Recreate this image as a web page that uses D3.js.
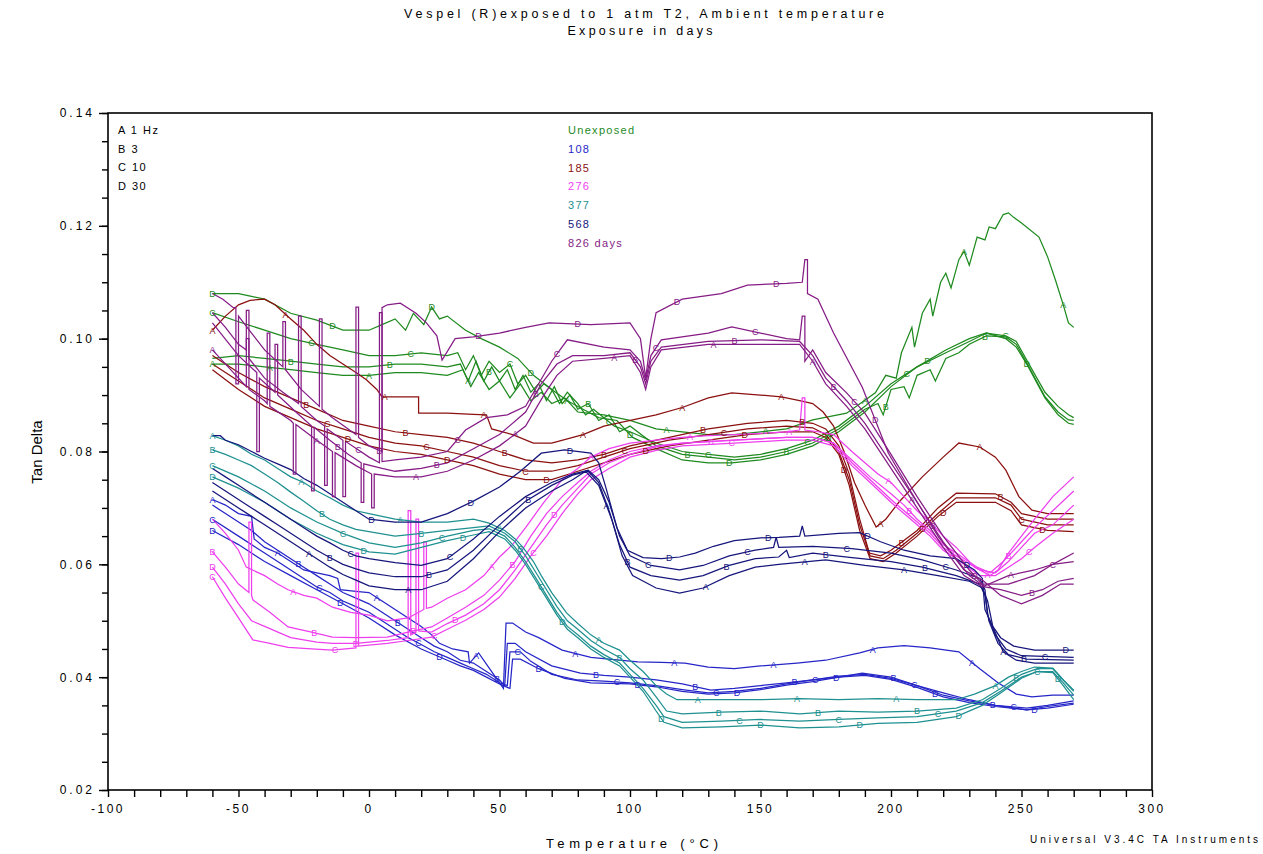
<!DOCTYPE html>
<html><head><meta charset="utf-8">
<script src="https://cdn.jsdelivr.net/npm/d3@7"></script>
<style>
body{margin:0;background:#fff}
text{font-family:"Liberation Sans",Arial,sans-serif;fill:#000}
</style>
</head><body>
<svg id="chart" width="1263" height="854"></svg>
<script>
// Tan delta vs temperature, four frequencies (A..D) for each exposure time.
// Each curve is a list of [temperature °C, tan delta].

// ---- Unexposed ----
const unexposedA = [[-60,0.0955],[-50,0.0955],[-40,0.095],[-30,0.0945],[-20,0.094],[-10,0.0935],[0,0.0935],[10,0.094],[20,0.094],[30,0.0935],[36,0.0945],[39,0.0915],[42,0.094],[46,0.091],[50,0.0925],[54,0.0895],[58,0.092],[62,0.089],[66,0.0905],[70,0.0885],[75,0.0895],[80,0.087],[90,0.0865],[100,0.0855],[110,0.084],[120,0.0835],[130,0.083],[140,0.083],[150,0.0835],[160,0.084],[170,0.0856],[183,0.0868],[194,0.0904],[198,0.0935],[202,0.093],[204,0.0975],[208,0.102],[209,0.0985],[212,0.1045],[215,0.107],[216,0.104],[219,0.11],[221,0.1116],[223,0.109],[226,0.114],[228,0.1155],[230,0.113],[233,0.118],[236,0.1175],[237.6,0.1198],[240,0.1195],[243,0.122],[245,0.1223],[247,0.1215],[250,0.1205],[256.7,0.118],[260,0.1145],[263,0.1104],[266,0.106],[268,0.1028],[270,0.102]];
const unexposedB = [[-60,0.0965],[-50,0.097],[-40,0.0965],[-30,0.096],[-20,0.0955],[-10,0.095],[0,0.095],[10,0.0955],[20,0.0955],[30,0.095],[35,0.0955],[38,0.0925],[41,0.096],[44,0.0925],[47,0.095],[50,0.0925],[53,0.0945],[56,0.091],[59,0.0935],[62,0.0905],[65,0.092],[68,0.089],[71,0.0915],[74,0.0885],[77,0.09],[80,0.0875],[84,0.0885],[88,0.0855],[92,0.0865],[96,0.0835],[100,0.0845],[110,0.081],[120,0.0795],[130,0.079],[140,0.0785],[150,0.079],[160,0.08],[170,0.0815],[180,0.084],[190,0.0875],[195,0.0885],[197,0.0865],[200,0.091],[205,0.0915],[207,0.0895],[210,0.0935],[215,0.0945],[217,0.0925],[221,0.0965],[226,0.0975],[230,0.099],[236.5,0.1005],[244,0.1003],[248,0.099],[252,0.0957],[259,0.0897],[264,0.087],[268,0.0856],[270,0.0855]];
const unexposedC = [[-60,0.1046],[-50,0.103],[-40,0.1015],[-30,0.1],[-20,0.099],[-10,0.098],[0,0.097],[10,0.097],[20,0.0975],[30,0.097],[34,0.0975],[37,0.0945],[40,0.097],[43,0.0935],[46,0.096],[50,0.094],[54,0.0955],[57,0.092],[60,0.0935],[64,0.0905],[67,0.092],[70,0.091],[73,0.0885],[76,0.0905],[80,0.0885],[83,0.0865],[86,0.0875],[90,0.086],[94,0.0845],[100,0.0835],[110,0.0815],[120,0.08],[130,0.0795],[140,0.079],[150,0.0795],[160,0.0805],[170,0.082],[180,0.0845],[190,0.088],[200,0.092],[210,0.095],[221,0.0975],[230,0.0995],[236.5,0.101],[244,0.1005],[248,0.0995],[252,0.0962],[259,0.0905],[264,0.088],[268,0.0865],[270,0.086]];
const unexposedD = [[-60,0.108],[-50,0.108],[-45,0.1075],[-40,0.107],[-30,0.1045],[-20,0.1033],[-10,0.1015],[0,0.1015],[5,0.1025],[10,0.1035],[14,0.1015],[17,0.1045],[21,0.1025],[24,0.1056],[27,0.1035],[30,0.104],[37,0.1015],[43,0.1],[50,0.0985],[57,0.0965],[63,0.0935],[70,0.091],[76,0.089],[82,0.0875],[88,0.086],[95,0.0855],[101,0.0825],[110,0.0805],[120,0.0785],[130,0.078],[139,0.078],[150,0.0785],[160,0.0795],[170,0.081],[180,0.0835],[190,0.087],[200,0.0915],[210,0.095],[221,0.098],[230,0.1],[236.5,0.101],[244,0.1],[248,0.0985],[252,0.0955],[259,0.0895],[264,0.0865],[268,0.085],[270,0.0848]];

// ---- 108 days ----
const d108A = [[-60,0.0715],[-55,0.0705],[-50,0.069],[-45,0.0685],[-44,0.0645],[-40,0.063],[-35,0.062],[-30,0.0605],[-25,0.059],[-20,0.0585],[-15,0.058],[-12,0.0575],[-11,0.0555],[-5,0.0552],[0,0.055],[5,0.0535],[10,0.052],[15,0.0505],[20,0.049],[24,0.0475],[27,0.046],[32,0.045],[38,0.0445],[38.5,0.0425],[42,0.0443],[47,0.041],[51.5,0.038],[52.5,0.0496],[55,0.0496],[60,0.048],[65,0.047],[74,0.0448],[85,0.0435],[96,0.043],[103,0.0427],[112,0.0426],[121,0.0425],[130,0.0418],[140,0.0415],[150,0.042],[164,0.0425],[175,0.043],[188,0.0443],[195,0.0452],[205,0.0456],[215,0.0452],[226,0.0445],[234,0.0415],[241,0.039],[248,0.037],[254,0.0365],[262,0.0368],[270,0.0368]];
const d108B = [[-60,0.0705],[-55,0.069],[-50,0.0675],[-45,0.066],[-40,0.064],[-35,0.0625],[-30,0.061],[-25,0.0595],[-20,0.058],[-15,0.0565],[-10,0.055],[-5,0.054],[0,0.053],[5,0.0515],[10,0.05],[15,0.0485],[20,0.047],[25,0.0455],[30,0.0445],[35,0.043],[40,0.0425],[45,0.041],[50,0.0395],[52,0.0385],[53,0.046],[56,0.046],[60,0.0445],[70,0.042],[81,0.0407],[90,0.0403],[100,0.04],[110,0.0395],[120,0.0388],[131,0.0377],[140,0.038],[150,0.0385],[160,0.039],[170,0.0395],[180,0.04],[189,0.0407],[200,0.04],[210,0.0385],[220,0.0372],[230,0.036],[240,0.035],[252,0.0342],[260,0.0348],[270,0.0354]];
const d108C = [[-60,0.068],[-50,0.065],[-40,0.062],[-35,0.0605],[-30,0.059],[-25,0.0575],[-20,0.056],[-15,0.055],[-10,0.0535],[-5,0.0525],[0,0.0515],[5,0.05],[10,0.0485],[15,0.047],[20,0.0458],[25,0.0445],[30,0.0435],[35,0.0425],[40,0.0415],[45,0.0405],[50,0.039],[53,0.0385],[54,0.0445],[58,0.0445],[62,0.0428],[70,0.0405],[80,0.0395],[90,0.0393],[100,0.039],[110,0.0385],[120,0.0378],[130,0.0372],[140,0.0375],[150,0.038],[160,0.0388],[170,0.0395],[180,0.0402],[190,0.0405],[200,0.0398],[210,0.0385],[220,0.0368],[230,0.0358],[240,0.035],[252,0.0345],[260,0.035],[270,0.0358]];
const d108D = [[-60,0.066],[-50,0.0635],[-40,0.0605],[-30,0.058],[-20,0.0555],[-10,0.053],[0,0.0505],[10,0.0475],[20,0.045],[30,0.043],[35,0.042],[40,0.0412],[45,0.04],[50,0.0388],[54,0.038],[55,0.0432],[58,0.0432],[65,0.0415],[75,0.0398],[85,0.039],[100,0.0388],[110,0.0383],[120,0.0375],[130,0.037],[140,0.0372],[150,0.0378],[160,0.0386],[170,0.0392],[180,0.04],[190,0.0403],[200,0.0396],[210,0.0382],[220,0.0365],[230,0.0355],[240,0.0348],[252,0.0342],[260,0.0345],[270,0.0352]];

// ---- 185 days ----
const d185A = [[-60,0.1015],[-55,0.104],[-50,0.106],[-45.6,0.1068],[-40,0.107],[-36,0.106],[-30,0.1035],[-25,0.1015],[-20,0.099],[-15,0.097],[-10,0.0955],[-5,0.094],[-1,0.0927],[3,0.091],[5,0.0897],[19,0.0897],[19,0.0868],[30,0.0868],[40,0.0866],[45,0.0865],[47,0.084],[55,0.083],[63,0.0815],[70,0.0815],[82,0.083],[90,0.0845],[101,0.0856],[110,0.0865],[120,0.0878],[130,0.0895],[139,0.0904],[150,0.09],[158,0.0897],[165,0.089],[170,0.0885],[174,0.087],[178,0.0845],[182,0.08],[186,0.0745],[190,0.0705],[194.3,0.0666],[198,0.068],[203,0.071],[212,0.0755],[220,0.079],[226,0.0815],[234,0.0808],[240,0.079],[244,0.0767],[249,0.072],[254,0.0696],[260,0.069],[270,0.069]];
const d185B = [[-60,0.097],[-50,0.094],[-40,0.0915],[-30,0.0895],[-20,0.0875],[-10,0.0855],[0,0.0845],[10,0.0835],[20,0.083],[30,0.0825],[40,0.0815],[50,0.08],[60,0.0785],[70,0.078],[80,0.0785],[90,0.0795],[100,0.081],[115,0.0825],[130,0.084],[145,0.085],[160,0.0855],[170,0.085],[175,0.084],[180,0.081],[184,0.076],[188,0.068],[191.7,0.062],[196,0.0615],[200,0.0625],[210,0.066],[218,0.07],[225,0.0726],[240,0.0725],[246,0.071],[250,0.069],[260,0.068],[270,0.068]];
const d185C = [[-60,0.0955],[-50,0.0925],[-40,0.0895],[-30,0.0875],[-20,0.0855],[-10,0.084],[0,0.0825],[10,0.0815],[20,0.081],[30,0.08],[40,0.079],[50,0.0775],[60,0.0765],[70,0.0765],[80,0.0775],[90,0.079],[100,0.0805],[115,0.082],[130,0.083],[145,0.084],[160,0.0845],[170,0.0842],[175,0.083],[180,0.08],[184,0.075],[188,0.067],[192,0.0615],[197,0.061],[202,0.0625],[210,0.0655],[218,0.069],[225,0.0718],[240,0.0718],[246,0.0705],[250,0.068],[260,0.067],[270,0.067]];
const d185D = [[-60,0.0945],[-50,0.091],[-40,0.088],[-30,0.086],[-20,0.084],[-10,0.0825],[0,0.081],[10,0.08],[20,0.0795],[30,0.0785],[40,0.0775],[50,0.076],[60,0.075],[70,0.075],[80,0.0765],[90,0.078],[100,0.0795],[115,0.081],[130,0.082],[145,0.083],[160,0.0835],[170,0.0835],[175,0.0825],[180,0.0795],[184,0.074],[188,0.066],[192,0.061],[197,0.0605],[202,0.062],[210,0.065],[218,0.0685],[225,0.071],[240,0.071],[246,0.0695],[250,0.067],[260,0.066],[270,0.0658]];

// ---- 276 days ----
const d276A = [[-60,0.068],[-55,0.0655],[-50,0.0625],[-47,0.0595],[-40,0.058],[-35,0.0565],[-31,0.0555],[-25,0.0545],[-20,0.054],[-14,0.0524],[-7,0.0515],[0,0.051],[7,0.05],[15,0.0505],[21,0.052],[21,0.064],[22,0.064],[22,0.0522],[24,0.0524],[30,0.054],[37,0.0555],[44,0.058],[50,0.0613],[55,0.0635],[60,0.0665],[67,0.071],[74,0.075],[80,0.077],[85,0.079],[92,0.0805],[100,0.0815],[110,0.082],[120,0.0825],[130,0.0828],[140,0.083],[150,0.0832],[160,0.0835],[165,0.0838],[166,0.0895],[167,0.0895],[167,0.0838],[172,0.0835],[178,0.083],[185,0.08],[190,0.078],[195,0.076],[200,0.0745],[205,0.072],[210,0.0695],[215,0.0675],[220,0.065],[225,0.063],[232,0.0595],[238,0.058],[241,0.059],[245,0.062],[250,0.065],[255,0.068],[262,0.072],[270,0.0755]];
const d276B = [[-60,0.0622],[-55,0.0595],[-50,0.0565],[-46,0.055],[-46,0.0675],[-45,0.0675],[-45,0.0545],[-44.5,0.0537],[-38,0.0515],[-31,0.0489],[-22,0.048],[-14,0.0471],[-5,0.047],[7,0.0471],[15,0.048],[24,0.0489],[30,0.0505],[37,0.0524],[44,0.0545],[50,0.0572],[56,0.0605],[62,0.065],[68,0.069],[74,0.072],[80,0.0745],[85,0.0765],[92,0.0785],[100,0.08],[110,0.081],[120,0.0815],[140,0.082],[160,0.0825],[170,0.0825],[178,0.0815],[185,0.0785],[192,0.0755],[200,0.0725],[205,0.0705],[210,0.068],[215,0.066],[220,0.0635],[225,0.062],[233,0.0595],[238,0.0585],[243,0.0605],[250,0.064],[255,0.0665],[262,0.0695],[270,0.073]];
const d276C = [[-60,0.0578],[-55,0.054],[-50,0.0505],[-44.5,0.0466],[-38,0.046],[-31,0.0453],[-22,0.045],[-14,0.0448],[-5,0.0452],[-5,0.062],[-4,0.062],[-4,0.0455],[7,0.046],[15,0.0465],[24,0.0471],[30,0.0485],[37,0.0501],[44,0.052],[50,0.0542],[56,0.0575],[62,0.0615],[68,0.065],[74,0.069],[80,0.0725],[85,0.075],[92,0.077],[100,0.079],[110,0.0802],[120,0.081],[140,0.0815],[160,0.082],[170,0.082],[178,0.081],[185,0.0775],[192,0.0745],[200,0.071],[205,0.069],[210,0.067],[215,0.065],[220,0.0625],[225,0.061],[234,0.058],[240,0.058],[245,0.0595],[250,0.061],[255,0.063],[262,0.0655],[270,0.068]];
const d276D = [[-60,0.0595],[-55,0.0565],[-50,0.053],[-45,0.05],[-40,0.049],[-30,0.047],[-20,0.0462],[-14,0.046],[-5,0.046],[7,0.0465],[15,0.047],[15,0.0695],[16,0.0695],[16,0.0475],[18,0.048],[18,0.068],[19,0.068],[19,0.0482],[24,0.048],[30,0.0495],[37,0.051],[44,0.053],[50,0.0555],[56,0.059],[62,0.063],[68,0.067],[74,0.0705],[80,0.0735],[85,0.076],[92,0.078],[100,0.0795],[110,0.0808],[120,0.0815],[140,0.082],[160,0.0825],[170,0.0825],[178,0.0815],[185,0.078],[192,0.075],[200,0.0715],[205,0.0695],[210,0.0675],[215,0.0655],[220,0.063],[225,0.0615],[234,0.059],[240,0.0585],[245,0.0605],[250,0.063],[255,0.0655],[262,0.067],[270,0.0705]];

// ---- 377 days ----
const d377A = [[-60,0.0828],[-55,0.082],[-50,0.081],[-45,0.0795],[-40,0.0785],[-35,0.077],[-30,0.0755],[-25,0.0745],[-20,0.073],[-15,0.0718],[-10,0.0705],[-5,0.0695],[0,0.069],[10,0.068],[20,0.0675],[30,0.0675],[40,0.068],[46,0.0673],[52,0.066],[56,0.0645],[59,0.063],[63,0.0605],[66,0.058],[70,0.055],[75.7,0.0514],[80,0.0495],[85,0.0475],[90,0.046],[96,0.0448],[100,0.043],[105,0.041],[110,0.0385],[114,0.037],[118,0.036],[130,0.036],[150,0.036],[165,0.0362],[180,0.036],[195,0.0362],[210,0.036],[225,0.036],[232,0.037],[240,0.0385],[245,0.04],[250,0.041],[255,0.0418],[262,0.0416],[266,0.0395],[270,0.0377]];
const d377B = [[-60,0.0803],[-55,0.0795],[-50,0.0785],[-45,0.0775],[-40,0.076],[-35,0.0745],[-30,0.0728],[-25,0.0712],[-20,0.0695],[-15,0.068],[-10,0.067],[-5,0.0662],[0,0.0658],[10,0.065],[20,0.0655],[30,0.066],[40,0.0665],[46,0.0668],[52,0.0655],[56,0.064],[60,0.0615],[64,0.0585],[68,0.0555],[72,0.0525],[76,0.05],[80,0.0485],[85,0.0465],[90,0.045],[96,0.0435],[100,0.0415],[105,0.0395],[110,0.0365],[114,0.034],[120,0.0335],[135,0.0338],[150,0.034],[165,0.0335],[180,0.034],[195,0.0338],[210,0.034],[225,0.0345],[235,0.036],[242,0.038],[250,0.0405],[256,0.0415],[262,0.0415],[266,0.0395],[270,0.0375]];
const d377C = [[-60,0.0775],[-50,0.0755],[-40,0.073],[-30,0.07],[-20,0.0675],[-10,0.0655],[0,0.0638],[10,0.063],[20,0.0638],[30,0.065],[40,0.066],[46,0.0663],[52,0.065],[56,0.063],[60,0.0605],[64,0.0575],[68,0.0545],[72,0.0515],[76,0.049],[80,0.0475],[85,0.0455],[90,0.044],[96,0.0425],[100,0.0405],[105,0.038],[110,0.035],[113,0.033],[120,0.032],[135,0.0322],[150,0.0325],[165,0.0322],[180,0.0325],[195,0.0328],[210,0.033],[225,0.034],[235,0.0355],[242,0.0375],[250,0.04],[256,0.041],[262,0.041],[266,0.039],[270,0.0368]];
const d377D = [[-60,0.0755],[-50,0.0735],[-40,0.071],[-30,0.068],[-20,0.0655],[-10,0.0635],[0,0.0622],[10,0.0618],[20,0.063],[30,0.0642],[40,0.0652],[46,0.0658],[52,0.0645],[56,0.0625],[60,0.06],[64,0.057],[68,0.054],[72,0.051],[76,0.0485],[80,0.047],[85,0.045],[90,0.0435],[96,0.042],[100,0.04],[105,0.0375],[110,0.034],[113,0.032],[120,0.031],[135,0.0312],[150,0.0315],[165,0.031],[180,0.0312],[195,0.0318],[210,0.032],[225,0.033],[235,0.035],[242,0.0372],[250,0.0398],[256,0.041],[262,0.0408],[266,0.0385],[270,0.036]];

// ---- 568 days ----
const d568A = [[-60,0.073],[-55,0.0715],[-50,0.07],[-45,0.0685],[-40,0.067],[-35,0.0655],[-30,0.064],[-25,0.0625],[-20,0.061],[-15,0.0595],[-10,0.0582],[-5,0.0572],[0,0.0562],[10,0.0555],[20,0.0555],[30,0.057],[40,0.061],[50,0.0658],[60,0.07],[70,0.073],[78,0.075],[83,0.0765],[88,0.074],[93,0.068],[97,0.0615],[101,0.058],[110,0.0558],[119,0.0549],[128,0.0558],[138,0.058],[148,0.0595],[157,0.06],[175,0.0608],[190,0.0598],[205,0.059],[218,0.058],[230,0.057],[235,0.0558],[237,0.0535],[239,0.049],[243,0.0445],[248,0.043],[255,0.0425],[270,0.0425]];
const d568B = [[-60,0.0745],[-55,0.073],[-50,0.0715],[-45,0.07],[-40,0.0685],[-35,0.067],[-30,0.0655],[-25,0.064],[-20,0.0625],[-15,0.0612],[-10,0.06],[-5,0.0592],[0,0.0585],[10,0.0578],[20,0.0578],[30,0.059],[40,0.0625],[50,0.067],[60,0.0712],[70,0.074],[78,0.0758],[84,0.0765],[88,0.0745],[92,0.0695],[96,0.0635],[100,0.0595],[108,0.058],[119,0.0572],[128,0.058],[138,0.0598],[148,0.061],[157,0.0613],[160,0.0625],[161,0.0612],[170,0.062],[185,0.0612],[200,0.0605],[212,0.0595],[225,0.058],[234,0.0565],[236,0.0545],[237.5,0.05],[241,0.046],[245,0.044],[252,0.0432],[270,0.043]];
const d568C = [[-60,0.077],[-55,0.0755],[-50,0.074],[-45,0.0725],[-40,0.071],[-35,0.0695],[-30,0.068],[-25,0.0665],[-20,0.065],[-15,0.0638],[-10,0.0625],[-5,0.0615],[0,0.061],[10,0.0603],[20,0.0598],[30,0.061],[40,0.0645],[50,0.0685],[60,0.072],[70,0.0745],[78,0.076],[84,0.0767],[88,0.075],[92,0.071],[96,0.065],[100,0.0615],[108,0.0598],[119,0.059],[128,0.0598],[138,0.0615],[148,0.0625],[155,0.063],[156,0.0648],[157,0.063],[170,0.0632],[185,0.0628],[200,0.062],[212,0.0608],[225,0.059],[234,0.0575],[236,0.0555],[237,0.051],[240,0.0475],[244,0.045],[250,0.0438],[270,0.0435]];
const d568D = [[-60,0.0828],[-57,0.0828],[-55,0.082],[-50,0.0812],[-45,0.08],[-40,0.0788],[-35,0.0778],[-30,0.0768],[-25,0.0752],[-20,0.074],[-15,0.0725],[-10,0.071],[-5,0.0695],[0,0.068],[10,0.0675],[20,0.0675],[30,0.069],[40,0.0712],[50,0.0737],[58,0.0765],[66,0.0797],[75,0.0803],[85,0.0797],[88,0.078],[91,0.0732],[95,0.0665],[99,0.0625],[105,0.0612],[112,0.061],[119,0.0613],[125,0.062],[132,0.0632],[140,0.0642],[150,0.0647],[157,0.0648],[165,0.065],[166,0.0668],[167,0.065],[180,0.0655],[188,0.0656],[196,0.064],[205,0.0625],[215,0.0615],[225,0.061],[232,0.059],[235,0.0575],[236,0.052],[239,0.049],[242,0.047],[247,0.0455],[255,0.0448],[270,0.0448]];

// ---- 826 days ----
const d826A = [[-60,0.098],[-50,0.093],[-47,0.0915],[-47,0.1],[-46,0.1],[-46,0.091],[-40,0.089],[-39,0.0885],[-39,0.101],[-38,0.101],[-38,0.088],[-30,0.0855],[-29,0.085],[-29,0.076],[-28,0.076],[-28,0.0848],[-20,0.082],[-14,0.08],[-14,0.072],[-13,0.072],[-13,0.0798],[-5,0.0775],[1,0.076],[1,0.07],[2,0.07],[2,0.076],[10,0.0755],[20,0.0755],[30,0.0765],[40,0.0785],[50,0.081],[60,0.0845],[67,0.09],[72,0.0935],[78,0.096],[90,0.0965],[100,0.097],[104,0.094],[106,0.091],[108,0.095],[112,0.098],[130,0.099],[150,0.099],[165,0.099],[170,0.096],[175,0.092],[183,0.088],[190,0.084],[200,0.077],[210,0.07],[220,0.063],[228,0.058],[235,0.056],[245,0.058],[255,0.059],[262,0.06],[270,0.0605]];
const d826B = [[-60,0.1028],[-50,0.097],[-43,0.094],[-43,0.08],[-42,0.08],[-42,0.093],[-36,0.0905],[-36,0.099],[-35,0.099],[-35,0.09],[-28,0.087],[-22,0.0845],[-22,0.073],[-21,0.073],[-21,0.0843],[-15,0.082],[-8,0.0795],[-3,0.078],[-3,0.071],[-2,0.071],[-2,0.0778],[5,0.077],[10,0.0765],[20,0.077],[30,0.078],[40,0.0805],[50,0.083],[60,0.087],[66,0.092],[72,0.0955],[78,0.097],[90,0.097],[100,0.0975],[104,0.095],[106,0.092],[108,0.096],[112,0.0985],[130,0.0995],[150,0.0998],[165,0.0995],[170,0.097],[175,0.093],[183,0.089],[190,0.085],[200,0.078],[210,0.071],[220,0.064],[230,0.058],[236,0.056],[242,0.0555],[250,0.0545],[258,0.0555],[264,0.057],[270,0.0575]];
const d826C = [[-60,0.1046],[-55,0.102],[-50,0.099],[-47,0.098],[-47,0.105],[-46,0.105],[-46,0.0965],[-40,0.093],[-33,0.0905],[-27,0.0885],[-27,0.104],[-26,0.104],[-26,0.088],[-20,0.0855],[-17,0.0845],[-17,0.074],[-16,0.074],[-16,0.084],[-10,0.082],[-10,0.072],[-9,0.072],[-9,0.0818],[0,0.079],[4,0.078],[4,0.1046],[5,0.1046],[5,0.0782],[10,0.0785],[20,0.079],[30,0.08],[37,0.0838],[45,0.086],[53,0.0865],[60,0.088],[65,0.092],[70,0.096],[76,0.0998],[90,0.0985],[100,0.098],[104,0.096],[106,0.0927],[108,0.097],[112,0.0998],[130,0.101],[139,0.1021],[150,0.101],[160,0.1],[165,0.0998],[166,0.104],[167,0.104],[167,0.096],[170,0.098],[175,0.094],[183,0.0904],[190,0.0868],[200,0.0795],[210,0.072],[220,0.065],[230,0.059],[235,0.0565],[245,0.0565],[255,0.058],[262,0.06],[270,0.062]];
const d826D = [[-60,0.108],[-56,0.107],[-52,0.1055],[-51,0.1055],[-51,0.092],[-50,0.092],[-50,0.104],[-45,0.101],[-40,0.098],[-33,0.095],[-33,0.103],[-32,0.103],[-32,0.0945],[-26,0.091],[-19,0.088],[-19,0.1035],[-18,0.1035],[-18,0.0875],[-14,0.086],[-8,0.084],[-5,0.083],[-5,0.1056],[-4,0.1056],[-4,0.0825],[0,0.081],[5,0.08],[5,0.1055],[7,0.106],[12,0.1063],[18,0.1045],[22,0.1028],[26,0.1005],[28,0.0962],[33,0.1],[40,0.1003],[50,0.101],[60,0.102],[69,0.1028],[85,0.1025],[100,0.1028],[104,0.1],[106,0.093],[108,0.1],[110,0.1046],[120,0.107],[135,0.108],[145,0.1095],[160,0.1098],[166,0.11],[167,0.114],[168,0.114],[168,0.108],[172,0.107],[178,0.101],[189,0.0914],[199,0.0797],[208,0.0726],[218,0.065],[228,0.059],[235,0.0572],[242,0.0545],[250,0.053],[258,0.0545],[265,0.0565],[270,0.0565]];

// Grouping, legends and axis ticks
const frequencyLetters = ["A", "B", "C", "D"];
const frequencyLegend = ["A 1 Hz", "B 3", "C 10", "D 30"];
const exposureLabels = ["Unexposed", "108", "185", "276", "377", "568", "826 days"];
const exposureColors = ["#1f8a1f", "#2626c8", "#8b1010", "#ee3eee", "#1f9090", "#16167c", "#861c86"];
const exposureCurves = [
  [unexposedA, unexposedB, unexposedC, unexposedD],
  [d108A, d108B, d108C, d108D],
  [d185A, d185B, d185C, d185D],
  [d276A, d276B, d276C, d276D],
  [d377A, d377B, d377C, d377D],
  [d568A, d568B, d568C, d568D],
  [d826A, d826B, d826C, d826D]
];
const xTickValues = [-100, -50, 0, 50, 100, 150, 200, 250, 300];
const yTickValues = [0.02, 0.04, 0.06, 0.08, 0.10, 0.12, 0.14];

const svg = d3.select("#chart");
const plotLeft = 108, plotRight = 1152, plotTop = 113, plotBottom = 790;
const x = d3.scaleLinear().domain([-100, 300]).range([plotLeft, plotRight]);
const y = d3.scaleLinear().domain([0.02, 0.14]).range([plotBottom, plotTop]);

// Titles
svg.append("text").attr("x", 644).attr("y", 18).attr("text-anchor", "middle")
  .attr("font-size", 12.5).attr("textLength", 480).attr("lengthAdjust", "spacing")
  .text("Vespel (R)exposed to 1 atm T2, Ambient temperature");
svg.append("text").attr("x", 640).attr("y", 35).attr("text-anchor", "middle")
  .attr("font-size", 12.5).attr("textLength", 145).attr("lengthAdjust", "spacing")
  .text("Exposure in days");

// Axes
const xAxis = svg.append("g").attr("transform", `translate(0,${plotBottom})`)
  .call(d3.axisBottom(x).tickValues(d3.range(-100, 301, 10)).tickSize(7).tickFormat(""));
xAxis.select(".domain").remove();
xAxis.selectAll("line").attr("stroke-width", 1.4);
svg.append("g").selectAll("text").data(xTickValues).join("text")
  .attr("x", d => x(d)).attr("y", plotBottom + 23).attr("text-anchor", "middle")
  .attr("font-size", 12).attr("letter-spacing", 2.5)
  .text(d => d);

const yMinor = svg.append("g").attr("transform", `translate(${plotLeft},0)`)
  .call(d3.axisLeft(y).tickValues(d3.range(0.02, 0.14001, 0.005)).tickSize(6).tickFormat(""));
yMinor.select(".domain").remove();
yMinor.selectAll("line").attr("stroke-width", 1.4);
const yMajor = svg.append("g").attr("transform", `translate(${plotLeft},0)`)
  .call(d3.axisLeft(y).tickValues(yTickValues).tickSize(9).tickFormat(d3.format(".2f")));
yMajor.select(".domain").remove();
yMajor.selectAll("line").attr("stroke-width", 1.4);
yMajor.selectAll("text").attr("font-size", 12).attr("letter-spacing", 3)
  .attr("font-family", "Liberation Sans, Arial, sans-serif").attr("x", -13).attr("fill", "#000");

svg.append("rect").attr("x", plotLeft).attr("y", plotTop)
  .attr("width", plotRight - plotLeft).attr("height", plotBottom - plotTop)
  .attr("fill", "none").attr("stroke", "#000").attr("stroke-width", 1.6);

svg.append("text").attr("transform", "translate(42,452) rotate(-90)").attr("text-anchor", "middle")
  .attr("font-size", 15).text("Tan Delta");
svg.append("text").attr("x", 632).attr("y", 848).attr("text-anchor", "middle")
  .attr("font-size", 13).attr("textLength", 172).attr("lengthAdjust", "spacing")
  .text("Temperature (°C)");
svg.append("text").attr("x", 1258).attr("y", 843).attr("text-anchor", "end")
  .attr("font-size", 10).attr("textLength", 228).attr("lengthAdjust", "spacing")
  .text("Universal V3.4C TA Instruments");

// Legends
svg.append("g").selectAll("text").data(frequencyLegend).join("text")
  .attr("x", 118).attr("y", (d, i) => 134 + i * 18.7)
  .attr("font-size", 11).attr("letter-spacing", 1.5).text(d => d);
svg.append("g").selectAll("text").data(exposureLabels).join("text")
  .attr("x", 568).attr("y", (d, i) => 134 + i * 18.8)
  .attr("font-size", 11).attr("letter-spacing", 1.3)
  .attr("style", (d, i) => `fill:${exposureColors[i]}`).text(d => d);

// Curves
const line = d3.line().x(d => x(d[0])).y(d => y(d[1]));
const plot = svg.append("g");
const markerLayer = svg.append("g");

function valueAt(curve, t) {
  for (let i = 0; i < curve.length - 1; i++) {
    const [t0, v0] = curve[i], [t1, v1] = curve[i + 1];
    if (t >= t0 && t <= t1 && t1 > t0) return v0 + (v1 - v0) * (t - t0) / (t1 - t0);
  }
  return curve[curve.length - 1][1];
}

// Frequency letter markers placed along each curve, skipping any that would sit on another marker
const placedMarks = [];
exposureCurves.forEach((curves, s) => {
  const color = exposureColors[s];
  curves.forEach((curve, f) => {
    plot.append("path").datum(curve).attr("d", line)
      .attr("fill", "none").attr("stroke", color).attr("stroke-width", 1.25)
      .attr("stroke-linejoin", "miter");
    const temps = [-60];
    for (let t = -60 + 22 + f * 8 + s * 3; t <= 268; t += 38) temps.push(t);
    temps.forEach(t => {
      const px = x(t), py = y(valueAt(curve, t));
      if (placedMarks.some(m => Math.abs(m[0] - px) < 8 && Math.abs(m[1] - py) < 9)) return;
      placedMarks.push([px, py]);
      markerLayer.append("text").attr("x", px).attr("y", py + 3.3)
        .attr("text-anchor", "middle").attr("font-size", 9)
        .attr("style", `fill:${color}`)
        .text(frequencyLetters[f]);
    });
  });
});
</script>
</body></html>
